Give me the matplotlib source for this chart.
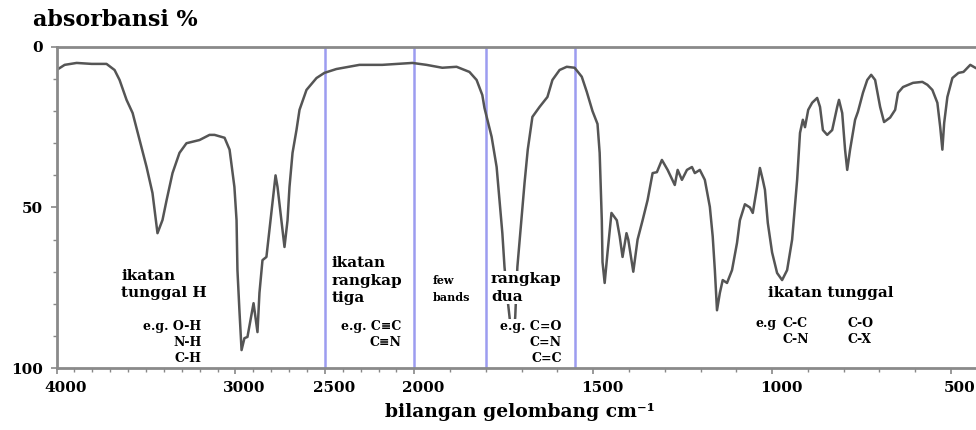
import numpy as np
import matplotlib
matplotlib.use("Agg")
import matplotlib.pyplot as plt
from matplotlib.ticker import FixedLocator, MultipleLocator
from matplotlib.transforms import ScaledTranslation

# spectrum (wavenumber cm-1, absorbance %)
wn = [4000, 3955, 3888, 3804, 3721, 3676, 3648, 3609, 3575, 3536, 3497, 3464,
      3436, 3408, 3385, 3352, 3313, 3274, 3201, 3145, 3117, 3061, 3033, 3006,
      2994, 2989, 2978, 2966, 2950, 2933, 2899, 2877, 2866, 2849, 2827, 2810,
      2793, 2776, 2765, 2743, 2726, 2709, 2698, 2681, 2659, 2642, 2603, 2547,
      2503, 2436, 2307, 2179, 2011, 1966, 1922, 1882, 1846, 1826, 1810, 1804,
      1795, 1784, 1770, 1762, 1754, 1748, 1740, 1732, 1724, 1718, 1712, 1700,
      1692, 1683, 1670, 1650, 1628, 1614, 1594, 1574, 1552, 1532, 1518, 1502,
      1488, 1482, 1476, 1474, 1468, 1460, 1449, 1434, 1426, 1418, 1407, 1402,
      1393, 1388, 1376, 1362, 1348, 1334, 1322, 1308, 1292, 1272, 1264, 1252,
      1238, 1224, 1216, 1202, 1188, 1174, 1166, 1160, 1154, 1146, 1138, 1126,
      1112, 1098, 1090, 1076, 1062, 1054, 1042, 1034, 1026, 1020, 1012, 1000,
      986, 972, 958, 944, 930, 922, 914, 908, 899, 888, 874, 866, 858, 846,
      832, 818, 813, 804, 796, 790, 782, 768, 760, 746, 734, 723, 712, 698,
      687, 670, 656, 648, 634, 606, 580, 566, 552, 538, 530, 524, 519, 510,
      496, 479, 465, 446, 432]
absorb = [7.2, 5.6, 5.0, 5.3, 5.3, 7.2, 10.3, 16.5, 20.6, 29, 37.4, 45.5,
          58, 53.9, 47.7, 39.3, 33, 30, 29, 27.4, 27.4, 28.3, 32, 43.6,
          54, 69.5, 82, 94.4, 90.7, 90.3, 79.8, 88.8, 76.6, 66.4, 65.4, 57,
          48.6, 40, 43.6, 54, 62.3, 54, 43.6, 33, 25.9, 19.6, 13.4, 9.7,
          8.1, 6.9, 5.6, 5.6, 5.0, 5.6, 6.5, 6.2, 7.8, 10.3, 15, 19,
          23, 28, 37.4, 47.7, 58, 68.5, 78, 86, 92, 84, 68.5, 53,
          42.4, 32, 21.8, 18.7, 15.6, 10.3, 7.2, 6.2, 6.5, 9.3, 14, 20,
          24, 33, 54, 67, 73.5, 64, 51.7, 54, 59, 65.4, 58, 60,
          66.4, 70, 60, 54, 47.7, 39.3, 39, 35.2, 38.3, 43, 38.3, 41.4,
          38.3, 37.4, 39.3, 38.3, 41.4, 49.8, 59, 69.5, 82, 76.6, 72.6, 73.5,
          69.5, 61, 54, 49, 50, 51.7, 43.6, 37.7, 41.4, 44.5, 54.8, 64,
          70.4, 72.6, 69.5, 60, 41.4, 26.8, 22.7, 25, 19.6, 17.4, 15.9, 18.7, 25.9, 27.4,
          25.9, 18.7, 16.5, 20.6, 32, 38.3, 32, 22.7, 20.2, 14.3, 10.3, 8.7, 10.3, 18.7,
          23.4, 22, 19.6, 14.3, 12.5, 11.2, 10.9, 11.8, 13.4, 17.4, 25, 32, 23.7, 15.6,
          9.7, 8.1, 7.8, 5.6, 6.5]

region_lines = [2500, 2000, 1800, 1550]
xticks = [4000, 3000, 2500, 2000, 1500, 1000, 500]
yticks = [0, 50, 100]

plt.rcParams['font.family'] = ['DejaVu Serif']
plt.rcParams['font.weight'] = 'bold'


# IR charts squeeze the part above 2000 cm-1 to half scale
def fwd(w):
    w = np.asarray(w, dtype=float)
    return np.where(w > 2000, 2000 + (w - 2000) / 2, w)


def inv(u):
    u = np.asarray(u, dtype=float)
    return np.where(u > 2000, 2000 + (u - 2000) * 2, u)


fig = plt.figure(figsize=(9.76, 4.3), dpi=100)
ax = fig.add_axes([0.058, 0.144, 0.942, 0.747])
ax.set_xscale('function', functions=(fwd, inv))
ax.set_xlim(4000, 430)
ax.set_ylim(100, 0)

for x in region_lines:
    ax.axvline(x, color='#9c9cf0', lw=1.8, zorder=1)

ax.plot(wn, absorb, color='#555555', lw=1.8, zorder=2)

ax.xaxis.set_major_locator(FixedLocator(xticks))
ax.xaxis.set_minor_locator(FixedLocator(np.arange(500, 4000, 100)))
ax.yaxis.set_major_locator(FixedLocator(yticks))
ax.yaxis.set_minor_locator(MultipleLocator(10))
ax.tick_params(axis='both', which='major', labelsize=11, length=4, width=1.2,
               color='#888888')
ax.tick_params(axis='x', which='major', pad=5)
ax.tick_params(axis='y', which='major', pad=6)
ax.tick_params(axis='both', which='minor', length=3, width=1, color='#888888')
shift = ScaledTranslation(9 / 100, 0, fig.dpi_scale_trans)
for lab in ax.get_xticklabels():
    lab.set_fontweight('bold')
    lab.set_transform(lab.get_transform() + shift)
for lab in ax.get_yticklabels():
    lab.set_fontweight('bold')

for s in ['left', 'bottom', 'top']:
    ax.spines[s].set_color('#8a8a8a')
    ax.spines[s].set_linewidth(2)
ax.spines['right'].set_visible(False)

box = dict(facecolor='white', edgecolor='none', pad=0.5)
lab_kw = dict(fontsize=11, fontweight='bold', va='top', linespacing=1.35, zorder=3)
eg_kw = dict(fontsize=9, fontweight='bold', va='top', linespacing=1.3, zorder=3)

ax.text(3640, 69, 'ikatan\ntunggal H', ha='left', **lab_kw)
ax.text(3190, 85, 'e.g. O-H\nN-H\nC-H', ha='right', multialignment='right', **eg_kw)

ax.text(2465, 65, 'ikatan\nrangkap\ntiga', ha='left', bbox=box, **lab_kw)
ax.text(2075, 85, 'e.g. C\u2261C\nC\u2261N', ha='right', multialignment='right', **eg_kw)

ax.text(1950, 71, 'few\nbands', ha='left', fontsize=8, fontweight='bold',
        va='top', linespacing=1.7)

ax.text(1786, 70, 'rangkap\ndua', ha='left', bbox=box, **lab_kw)
ax.text(1588, 85, 'e.g. C=O\nC=N\nC=C', ha='right', multialignment='right',
        bbox=box, **eg_kw)

ax.text(1012, 74.5, 'ikatan tunggal', ha='left', bbox=box, **lab_kw)
ax.text(1045, 84, 'e.g', ha='left', **eg_kw)
ax.text(970, 84, 'C-C\nC-N', ha='left', **eg_kw)
ax.text(790, 84, 'C-O\nC-X', ha='left', **eg_kw)

fig.text(0.034, 0.953, 'absorbansi %', fontsize=16, fontweight='bold', va='center')
fig.text(0.533, 0.042, 'bilangan gelombang cm\u207b\u00b9', fontsize=13.5,
         fontweight='bold', ha='center', va='center')

fig.savefig('out.png', dpi=100)
